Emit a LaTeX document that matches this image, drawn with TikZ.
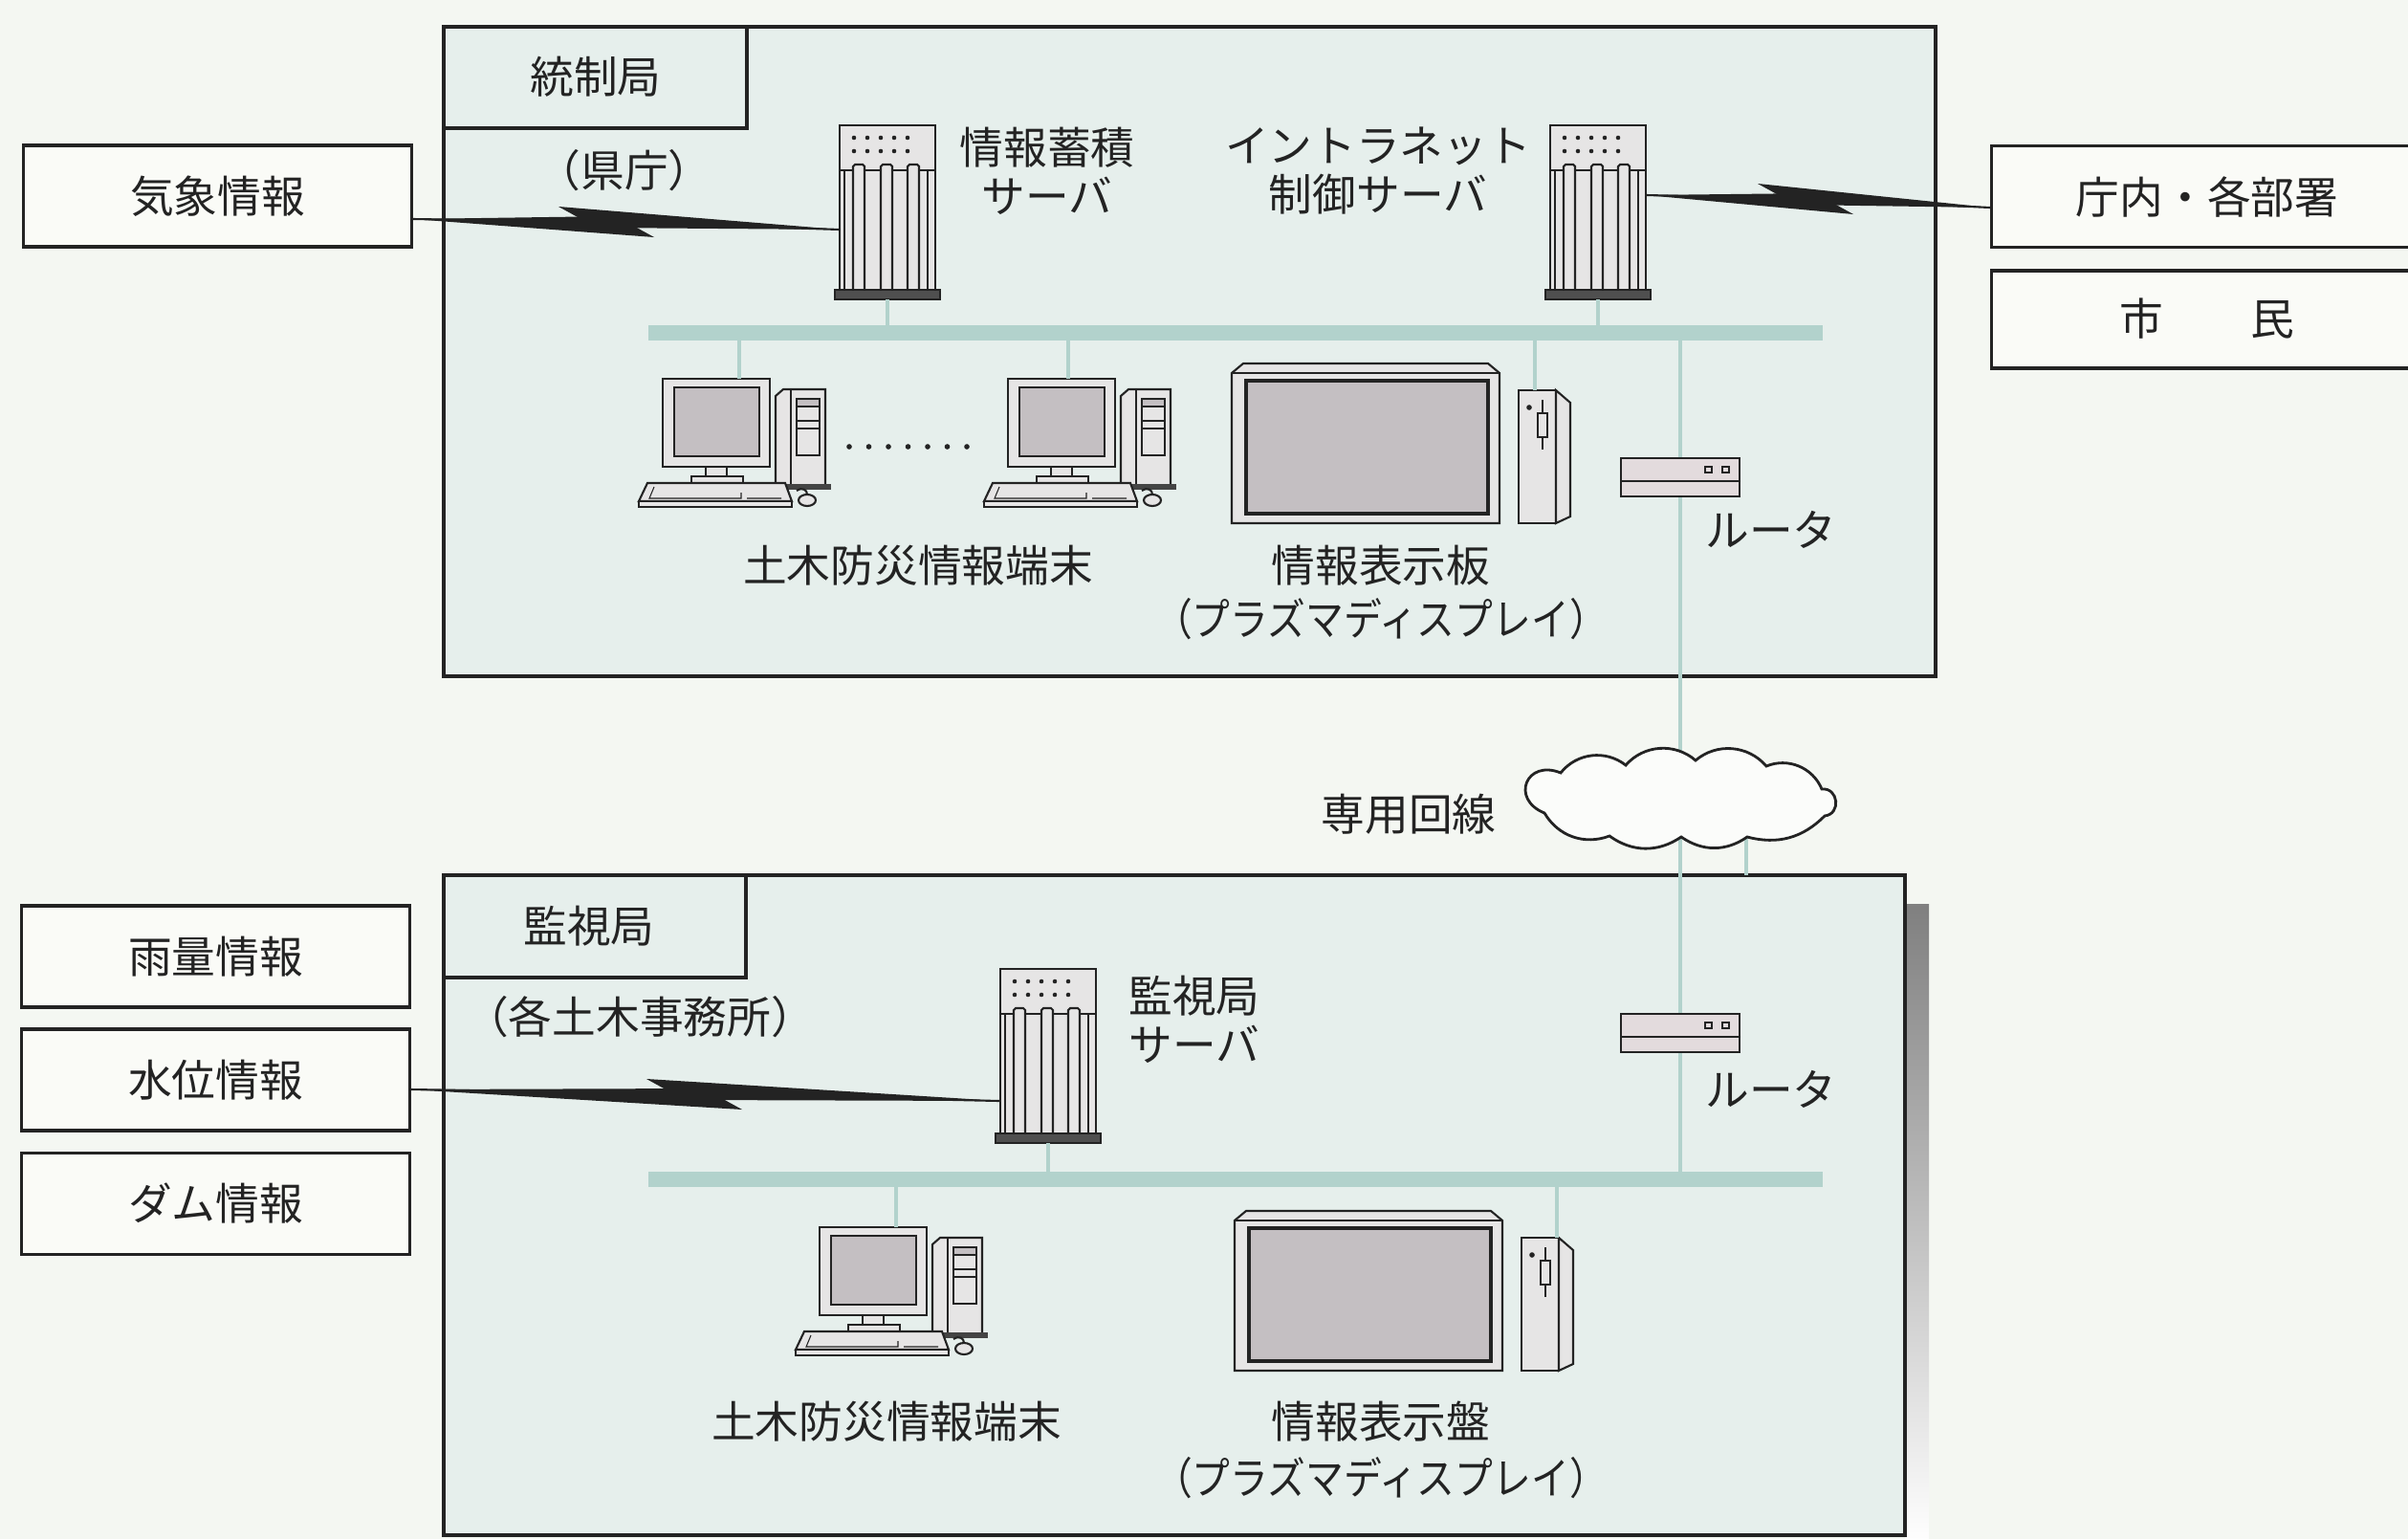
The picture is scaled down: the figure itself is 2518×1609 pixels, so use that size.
\documentclass[tikz,border=0pt]{standalone}
\usepackage{graphicx}
\usepackage{fontspec}
\setmainfont{Noto Sans CJK JP}
\usetikzlibrary{calc}

\definecolor{paper}{HTML}{F4F7F2}
\definecolor{zone}{HTML}{E6EFEC}
\definecolor{card}{HTML}{FAFBF7}
\definecolor{net}{HTML}{B2D2CC}
\definecolor{ink}{HTML}{232323}
\definecolor{metal}{HTML}{E6E5E5}
\definecolor{screen}{HTML}{C4BFC2}
\definecolor{shade}{HTML}{B5B2B4}
\definecolor{rout}{HTML}{E3DBDD}

% lightning-bolt link: #1 start, #2 end, #3 centre of the zigzag
\newcommand\zap[3]{%
  \draw[ink, line width=0.6pt] (#1) -- (#3) -- (#2);
  \fill[ink] (#1) -- ($(#3)+(10,-6)$) -- ($(#3)+(50,16)$) -- cycle;
  \fill[ink] (#2) -- ($(#3)+(-10,6)$) -- ($(#3)+(-50,-16)$) -- cycle;
}

\tikzset{
  frame/.style={draw=ink, line width=0.9pt},
  zonebox/.style={frame, fill=zone},
  lbl/.style={font=\fontsize{13pt}{14.5pt}\selectfont, text=ink, inner sep=0pt, align=center},
  infobox/.style={frame, fill=card, minimum width=4.05cm, minimum height=1.06cm, inner sep=0pt},
  bus/.style={draw=net, line width=4.8pt},
  drop/.style={draw=net, line width=1.3pt},
  part/.style={draw=ink, line width=0.6pt},
  hair/.style={draw=ink, line width=0.3pt},
  % tower server, origin = top-left of the cabinet
  server/.pic={
    \path[part, fill=metal] (0,0) rectangle (100,172);
    \draw[part] (0,47) -- (100,47);
    \foreach \u in {5,92} \draw[hair] (\u,47) -- (\u,172);
    \foreach \a in {14,43,71}
      \path[part, fill=metal] (\a,172) -- (\a,43) -- (\a+2,41) -- (\a+10,41) -- (\a+12,43) -- (\a+12,172);
    \foreach \u in {15,29,43,57,71} {
      \fill[ink] (\u,13) circle[radius=0.65pt];
      \fill[ink] (\u,27) circle[radius=0.65pt];
    }
    \path[part, fill=ink!80] (-5,172) rectangle (105,182);
    \coordinate (-bot) at (50,182);
    \coordinate (-w) at (0,109);
    \coordinate (-e) at (100,73);
  },
  % desktop terminal, origin = top-left of the monitor
  pc/.pic={
    \path[part, fill=metal] (118,18) -- (126,11) -- (170,11) -- (170,112) -- (118,112) -- cycle;
    \draw[part] (134,11) -- (134,112);
    \path[part, fill=screen] (140,21) rectangle (164,29);
    \draw[part] (140,44) rectangle (164,52);
    \draw[hair] (140,29) -- (140,80) -- (164,80) -- (164,29);
    \fill[ink!85] (116,110) rectangle (176,116);
    \path[part, fill=metal] (0,0) rectangle (112,92);
    \path[part, fill=screen] (12,9) rectangle (101,81);
    \path[part, fill=metal] (45,92) rectangle (67,102);
    \path[part, fill=metal] (30,102) rectangle (84,109);
    \path[part, fill=metal] (-16,109) -- (128,109) -- (135,128) -- (-25,128) -- cycle;
    \path[part, fill=metal] (-25,128) rectangle (135,134);
    \draw[hair] (-9,113) -- (-14,125) -- (82,125) -- (82,119) (88,125) -- (124,125);
    \draw[part] (140,117) .. controls (146,113) and (151,116) .. (151,121);
    \path[part, fill=metal] (151,127) ellipse [x radius=9, y radius=6];
    \coordinate (-top) at (80,0);
  },
  % plasma display with its controller, origin = top-left of the panel
  plasma/.pic={
    \path[part, fill=metal] (0,10) -- (12,0) -- (268,0) -- (280,10) -- (280,167) -- (0,167) -- cycle;
    \draw[part] (0,10) -- (280,10);
    \path[draw=ink, line width=1.3pt, fill=screen] (15,18) rectangle (268,157);
    \path[part, fill=metal] (300,28) rectangle (339,167);
    \path[part, fill=metal] (339,28) -- (354,41) -- (354,160) -- (339,167) -- cycle;
    \fill[ink] (311,46) circle[radius=0.8pt];
    \draw[part] (325,38) -- (325,90);
    \path[part, fill=metal] (320,52) rectangle (330,77);
    \coordinate (-ctl) at (300,28);
  },
  % router, origin = top-left
  router/.pic={
    \path[part, fill=rout] (0,0) rectangle (124,40);
    \draw[part] (0,24) -- (124,24);
    \draw[hair] (88,9) rectangle (95,15) (106,9) rectangle (113,15);
  },
}

\begin{document}
\begin{tikzpicture}[x=0.01cm, y=-0.01cm]
\useasboundingbox (0,0) rectangle (2518,1609);
\clip (0,0) rectangle (2518,1609);
\fill[paper] (0,0) rectangle (2518,1609);

% ---- sites ----
\draw[zonebox] (464,28) rectangle (2024,707);
\draw[frame] (464,28) rectangle (781,134);
\node[lbl] (tousei) at (623,80) {統制局};

\fill[shade] (1992,945) rectangle (2017,1615);
\draw[zonebox] (464,915) rectangle (1992,1605);
\draw[frame] (464,915) rectangle (780,1022);
\node[lbl] (kanshi) at (616,968) {監視局};

% ---- outside information ----
\node[infobox, lbl] (kisho) at (227.5,205) {気象情報};
\node[infobox, minimum width=4.6cm, anchor=west] (chonai) at (2081,205.5) {};
\node[lbl] (chonai-t) at (2308,206) {庁内・各部署};
\node[infobox, minimum width=4.6cm, minimum height=1.02cm, anchor=west] (shimin) at (2081,334) {};
\node[lbl] (shimin-t) at (2308,333) {市　　民};
\node[infobox, lbl] (uryo) at (225.5,1000) {雨量情報};
\node[infobox, lbl] (suii) at (225.5,1129) {水位情報};
\node[infobox, lbl] (dam) at (225.5,1258.5) {ダム情報};

% ---- LAN backbones and leased line ----
\coordinate (b1w) at (678,348);  \coordinate (b1e) at (1906,348);
\coordinate (b2w) at (678,1233); \coordinate (b2e) at (1906,1233);
\draw[bus] (b1w) -- (b1e);
\draw[bus] (b2w) -- (b2e);
\coordinate (trunk-top) at (1757,348);
\coordinate (trunk-bot) at (1757,1233);
\draw[drop] (trunk-top) -- (trunk-bot);
\coordinate (stub-a) at (1826,870);
\coordinate (stub-b) at (1826,915);
\draw[drop] (stub-a) -- (stub-b);

% ---- equipment ----
\pic (srv1) at (878,131) {server};
\pic (srv2) at (1621,131) {server};
\pic (pc1) at (693,396) {pc};
\pic (pc2) at (1054,396) {pc};
\pic (disp1) at (1288,380) {plasma};
\pic (rt1) at (1695,479) {router};

\pic (srv3) at (1046,1013) {server};
\pic (pc3) at (857,1283) {pc};
\pic (disp2) at (1291,1266) {plasma};
\pic (rt2) at (1695,1060) {router};

% ---- drops to the backbones ----
\draw[drop] (srv1-bot) -- (srv1-bot |- b1w);
\draw[drop] (srv2-bot) -- (srv2-bot |- b1w);
\draw[drop] (pc1-top) -- (pc1-top |- b1w);
\coordinate (pc2-link) at ([xshift=-0.17cm]pc2-top);
\draw[drop] (pc2-link) -- (pc2-link |- b1w);
\coordinate (disp1-link) at ([xshift=0.17cm]disp1-ctl);
\draw[drop] (disp1-link) -- (disp1-link |- b1w);

\draw[drop] (srv3-bot) -- (srv3-bot |- b2w);
\draw[drop] (pc3-top) -- (pc3-top |- b2w);
\coordinate (disp2-link) at ([xshift=0.37cm]disp2-ctl);
\draw[drop] (disp2-link) -- (disp2-link |- b2w);

% ---- leased-line cloud ----
\draw[ink, line width=0.8pt, fill=white!60!paper]
  (1632,808) to[bend left=45] (1700,800) to[bend left=45] (1773,795)
  to[bend left=45] (1847,801) to[bend left=45] (1905,825)
  to[bend left=90, looseness=1.6] (1908,853) to[bend left=30] (1827,875)
  to[bend left=35] (1758,875) to[bend left=35] (1683,874)
  to[bend left=40] (1615,850) to[bend left=90, looseness=2.2] (1632,808) -- cycle;

% ---- radio links ----
\coordinate (z1a) at ([yshift=-0.24cm]kisho.east);
\coordinate (z1c) at (634,232);
\zap{z1a}{srv1-w}{z1c}
\coordinate (z2b) at ([yshift=-0.115cm]chonai.west);
\coordinate (z2c) at (1888,208);
\zap{srv2-e}{z2b}{z2c}
\coordinate (z3a) at ([yshift=-0.1cm]suii.east);
\coordinate (z3b) at ([yshift=-0.29cm]srv3-w);
\coordinate (z3c) at (726,1144);
\zap{z3a}{z3b}{z3c}

% ---- captions ----
\node[lbl] (kencho) at (653,178) {（県庁）};
\node[lbl] (srv1-lbl) at (1095,179) {情報蓄積\\サーバ};
\node[lbl] (srv2-lbl) at (1441,179) {イントラネット\\制御サーバ};
\foreach \i in {0,...,6} \fill[ink] (888+\i*20.5,467) circle[radius=0.8pt];
\node[lbl] (pcs1-lbl) at (960,591) {土木防災情報端末};
\node[lbl] (disp1-lbl) at (1444,591) {情報表示板};
\node[lbl] (disp1-sub) at (1444,647) {\scalebox{0.87}[1]{（プラズマディスプレイ）}};
\node[lbl] (rt1-lbl) at (1852,554) {ルータ};
\node[lbl] (line-lbl) at (1473,851) {専用回線};
\node[lbl] (kanshi-sub) at (669,1063) {（各土木事務所）};
\node[lbl] (srv3-lbl) at (1249,1066) {監視局\\サーバ};
\node[lbl] (rt2-lbl) at (1852,1139) {ルータ};
\node[lbl] (pcs3-lbl) at (927,1486) {土木防災情報端末};
\node[lbl] (disp2-lbl) at (1444,1486) {情報表示盤};
\node[lbl] (disp2-sub) at (1444,1545) {\scalebox{0.87}[1]{（プラズマディスプレイ）}};
\end{tikzpicture}
\end{document}
